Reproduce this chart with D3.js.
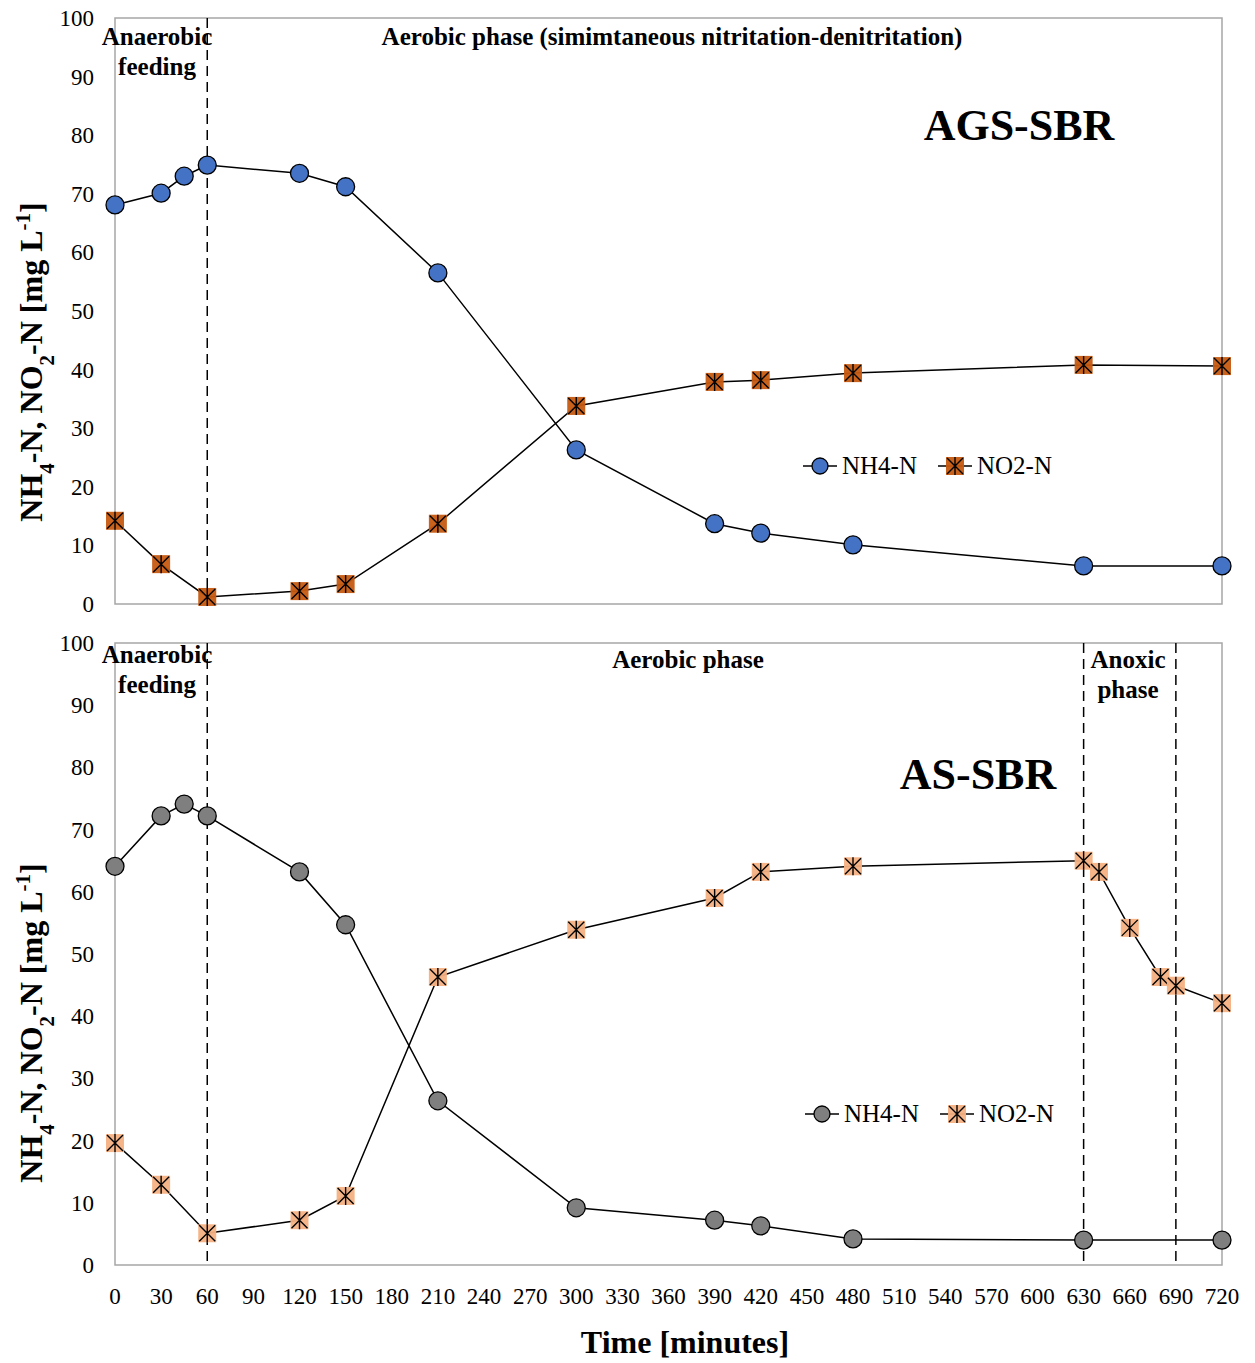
<!DOCTYPE html>
<html>
<head>
<meta charset="utf-8">
<script src="https://cdn.jsdelivr.net/npm/d3@7"></script>
<style>
  body { margin: 0; background: #fff; }
  svg text { font-family: "Liberation Serif", "Times New Roman", serif; fill: #000; }
</style>
</head>
<body>
<div id="chart"></div>
<script>
// ---- data ----
const timeTicks = d3.range(0, 721, 30);
const yTicks = d3.range(0, 101, 10);

// AGS-SBR
const agsTime = [0, 30, 45, 60, 120, 150, 210, 300, 390, 420, 480, 630, 720];
const agsNH4 = [68.1, 70.1, 73.0, 74.9, 73.5, 71.2, 56.5, 26.3, 13.7, 12.1, 10.1, 6.5, 6.5];
const agsNO2Time = [0, 30, 60, 120, 150, 210, 300, 390, 420, 480, 630, 720];
const agsNO2 = [14.2, 6.8, 1.2, 2.2, 3.4, 13.7, 33.8, 37.9, 38.2, 39.4, 40.8, 40.6];

// AS-SBR
const asTime = [0, 30, 45, 60, 120, 150, 210, 300, 390, 420, 480, 630, 720];
const asNH4 = [64.1, 72.2, 74.1, 72.2, 63.2, 54.7, 26.4, 9.2, 7.2, 6.3, 4.2, 4.0, 4.0];
const asNO2Time = [0, 30, 60, 120, 150, 210, 300, 390, 420, 480, 630, 640, 660, 680, 690, 720];
const asNO2 = [19.6, 12.9, 5.1, 7.2, 11.1, 46.3, 53.9, 59.0, 63.2, 64.1, 65.0, 63.2, 54.2, 46.3, 44.9, 42.1];

const W = 1255, H = 1363;
const left = 115, right = 1222;

const svg = d3.select("#chart").append("svg")
    .attr("width", W)
    .attr("height", H);

const x = d3.scaleLinear().domain([0, 720]).range([left, right]);

function panel(opts) {
    const y = d3.scaleLinear().domain([0, 100]).range([opts.bottom, opts.top]);
    const g = svg.append("g");

    // frame
    g.append("rect")
        .attr("x", left).attr("y", opts.top)
        .attr("width", right - left).attr("height", opts.bottom - opts.top)
        .attr("fill", "none")
        .attr("stroke", "#a6a6a6")
        .attr("stroke-width", 1.5);

    // y tick labels
    g.selectAll(".ytick")
        .data(yTicks)
        .enter().append("text")
        .attr("class", "ytick")
        .attr("x", 94)
        .attr("y", d => y(d) + 8)
        .attr("text-anchor", "end")
        .attr("font-size", "23px")
        .text(d => d);

    // phase dividers
    opts.dividers.forEach(t => {
        g.append("line")
            .attr("x1", x(t)).attr("x2", x(t))
            .attr("y1", opts.top).attr("y2", opts.bottom)
            .attr("stroke", "#000")
            .attr("stroke-width", 1.5)
            .attr("stroke-dasharray", "10,6");
    });

    // y title
    const yt = g.append("text")
        .attr("transform", `translate(42, ${opts.titleY}) rotate(-90)`)
        .attr("text-anchor", "middle")
        .attr("font-size", "32px")
        .attr("font-weight", "bold");
    yt.append("tspan").text("NH");
    yt.append("tspan").attr("baseline-shift", "sub").attr("font-size", "21px").text("4");
    yt.append("tspan").text("-N, NO");
    yt.append("tspan").attr("baseline-shift", "sub").attr("font-size", "21px").text("2");
    yt.append("tspan").text("-N [mg L");
    yt.append("tspan").attr("baseline-shift", "super").attr("font-size", "21px").text("-1");
    yt.append("tspan").text("]");

    // annotations
    opts.notes.forEach(n => {
        n.lines.forEach((s, i) => {
            g.append("text")
                .attr("x", n.x)
                .attr("y", n.y + i * 30)
                .attr("text-anchor", "middle")
                .attr("font-size", "25px")
                .attr("font-weight", "bold")
                .text(s);
        });
    });

    g.append("text")
        .attr("x", opts.title.x)
        .attr("y", opts.title.y)
        .attr("text-anchor", "middle")
        .attr("font-size", "44px")
        .attr("font-weight", "bold")
        .text(opts.title.text);

    const line = d3.line().x(d => x(d[0])).y(d => y(d[1]));

    const nh4 = opts.nh4Time.map((t, i) => [t, opts.nh4[i]]);
    const no2 = opts.no2Time.map((t, i) => [t, opts.no2[i]]);

    g.append("path").datum(nh4).attr("d", line)
        .attr("fill", "none").attr("stroke", "#000").attr("stroke-width", 1.5);
    g.append("path").datum(no2).attr("d", line)
        .attr("fill", "none").attr("stroke", "#000").attr("stroke-width", 1.5);

    // NO2 markers (square + asterisk)
    function starSquare(sel, cx, cy, fill) {
        const s = 9;
        sel.append("rect")
            .attr("x", cx - s).attr("y", cy - s)
            .attr("width", 2 * s).attr("height", 2 * s)
            .attr("fill", fill)
            .attr("opacity", 0.95);
        const a = 8;
        sel.append("path")
            .attr("d", `M${cx - a},${cy - a}L${cx + a},${cy + a}M${cx - a},${cy + a}L${cx + a},${cy - a}M${cx},${cy - a - 1}L${cx},${cy + a + 1}`)
            .attr("stroke", "#000")
            .attr("stroke-width", 1.4);
    }

    no2.forEach(d => starSquare(g.append("g"), x(d[0]), y(d[1]), opts.no2Color));

    g.selectAll(".nh4")
        .data(nh4)
        .enter().append("circle")
        .attr("class", "nh4")
        .attr("cx", d => x(d[0]))
        .attr("cy", d => y(d[1]))
        .attr("r", 9)
        .attr("fill", opts.nh4Color)
        .attr("stroke", "#000")
        .attr("stroke-width", 1.3);

    // legend
    const lg = g.append("g").attr("transform", `translate(${opts.legend.x}, ${opts.legend.y})`);
    lg.append("line").attr("x1", 0).attr("x2", 34).attr("stroke", "#000").attr("stroke-width", 1.5);
    lg.append("circle").attr("cx", 17).attr("r", 8)
        .attr("fill", opts.nh4Color).attr("stroke", "#000").attr("stroke-width", 1.3);
    lg.append("text").attr("x", 39).attr("y", 8).attr("font-size", "25px").text("NH4-N");
    lg.append("line").attr("x1", 135).attr("x2", 169).attr("stroke", "#000").attr("stroke-width", 1.5);
    starSquare(lg.append("g"), 152, 0, opts.no2Color);
    lg.append("text").attr("x", 174).attr("y", 8).attr("font-size", "25px").text("NO2-N");

    return y;
}

panel({
    top: 18, bottom: 604,
    titleY: 362,
    dividers: [60],
    notes: [
        {x: 157, y: 45, lines: ["Anaerobic", "feeding"]},
        {x: 672, y: 45, lines: ["Aerobic phase (simimtaneous nitritation-denitritation)"]}
    ],
    title: {text: "AGS-SBR", x: 1019, y: 140},
    nh4Time: agsTime, nh4: agsNH4,
    no2Time: agsNO2Time, no2: agsNO2,
    nh4Color: "#4472c4", no2Color: "#c55a11",
    legend: {x: 803, y: 466}
});

panel({
    top: 643, bottom: 1265,
    titleY: 1023,
    dividers: [60, 630, 690],
    notes: [
        {x: 157, y: 663, lines: ["Anaerobic", "feeding"]},
        {x: 688, y: 668, lines: ["Aerobic phase"]},
        {x: 1128, y: 668, lines: ["Anoxic", "phase"]}
    ],
    title: {text: "AS-SBR", x: 978, y: 789},
    nh4Time: asTime, nh4: asNH4,
    no2Time: asNO2Time, no2: asNO2,
    nh4Color: "#7f7f7f", no2Color: "#f4b183",
    legend: {x: 805, y: 1114}
});

// shared x axis labels
svg.selectAll(".xtick")
    .data(timeTicks)
    .enter().append("text")
    .attr("class", "xtick")
    .attr("x", d => x(d))
    .attr("y", 1304)
    .attr("text-anchor", "middle")
    .attr("font-size", "23px")
    .text(d => d);

svg.append("text")
    .attr("x", 685)
    .attr("y", 1353)
    .attr("text-anchor", "middle")
    .attr("font-size", "32px")
    .attr("font-weight", "bold")
    .text("Time [minutes]");
</script>
</body>
</html>
